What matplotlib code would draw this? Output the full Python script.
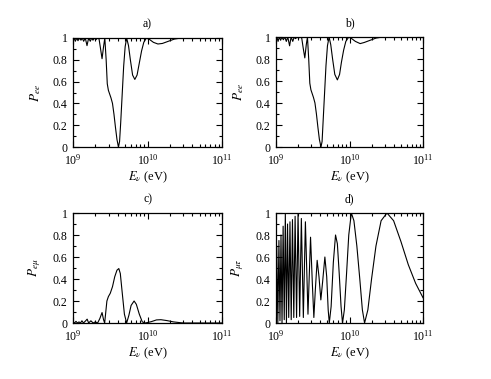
import matplotlib
matplotlib.use("Agg")
import matplotlib.pyplot as plt
from matplotlib.ticker import FuncFormatter, LogLocator, MultipleLocator, LogFormatterMathtext
import numpy as np

plt.rcParams["font.family"] = ["Liberation Serif", "DejaVu Serif"]
plt.rcParams["mathtext.fontset"] = "stix"

# ---- data (log10 of E in eV, probability) ----
logE_ee_a = [9.0, 9.015, 9.031, 9.05, 9.067, 9.085, 9.107, 9.125, 9.143, 9.165,
             9.188, 9.21, 9.232, 9.25, 9.268, 9.29, 9.309, 9.33, 9.35, 9.37,
             9.39, 9.41, 9.427, 9.445, 9.46, 9.475, 9.49, 9.51, 9.53, 9.55,
             9.57, 9.59, 9.61, 9.625, 9.64, 9.66, 9.68, 9.70, 9.72, 9.745,
             9.77, 9.80, 9.83, 9.86, 9.89, 9.92, 9.95, 9.985, 10.03, 10.08,
             10.14, 10.2, 10.28, 10.36, 10.45, 11.0]
P_ee_a = [0.98, 1.0, 0.97, 1.0, 0.975, 1.0, 0.98, 1.0, 0.97, 1.0,
          0.93, 1.0, 0.97, 1.0, 0.98, 1.0, 0.985, 1.0, 0.99, 0.90,
          0.81, 0.92, 1.0, 0.80, 0.58, 0.52, 0.49, 0.45, 0.40, 0.30,
          0.18, 0.07, 0.0, 0.05, 0.22, 0.48, 0.74, 0.92, 1.0, 0.93,
          0.80, 0.66, 0.62, 0.66, 0.77, 0.88, 0.96, 1.0, 0.985, 0.96,
          0.945, 0.95, 0.97, 0.99, 1.0, 1.0]

logE_ee_b = [9.0, 9.012, 9.028, 9.045, 9.063, 9.08, 9.10, 9.12, 9.14, 9.16,
             9.185, 9.205, 9.228, 9.248, 9.266, 9.288, 9.306, 9.33, 9.35, 9.37,
             9.392, 9.412, 9.428, 9.445, 9.46, 9.475, 9.49, 9.51, 9.53, 9.55,
             9.57, 9.59, 9.612, 9.627, 9.64, 9.66, 9.68, 9.70, 9.722, 9.745,
             9.77, 9.80, 9.835, 9.865, 9.89, 9.92, 9.95, 9.99, 10.03, 10.08,
             10.145, 10.2, 10.28, 10.36, 10.45, 11.0]
P_ee_b = [0.97, 1.0, 0.96, 1.0, 0.97, 1.0, 0.975, 1.0, 0.96, 1.0,
          0.92, 1.0, 0.96, 1.0, 0.985, 1.0, 0.99, 1.0, 0.99, 0.90,
          0.81, 0.93, 1.0, 0.80, 0.58, 0.52, 0.49, 0.45, 0.40, 0.30,
          0.18, 0.07, 0.0, 0.05, 0.22, 0.48, 0.74, 0.92, 1.0, 0.93,
          0.80, 0.66, 0.61, 0.66, 0.77, 0.88, 0.96, 1.0, 0.985, 0.96,
          0.94, 0.95, 0.97, 0.99, 1.0, 1.0]

logE_em = [9.0, 9.02, 9.04, 9.06, 9.08, 9.10, 9.12, 9.14, 9.17, 9.19,
           9.21, 9.24, 9.27, 9.30, 9.33, 9.36, 9.39, 9.41, 9.425, 9.44,
           9.455, 9.475, 9.50, 9.53, 9.56, 9.59, 9.615, 9.635, 9.66, 9.69,
           9.72, 9.75, 9.78, 9.82, 9.85, 9.89, 9.93, 9.97, 10.05, 10.12,
           10.18, 10.26, 10.35, 10.45, 10.5, 11.0]
P_em = [0.01, 0.0, 0.015, 0.0, 0.01, 0.0, 0.02, 0.0, 0.02, 0.035,
        0.0, 0.02, 0.0, 0.01, 0.0, 0.04, 0.095, 0.03, 0.0, 0.10,
        0.20, 0.24, 0.27, 0.33, 0.42, 0.48, 0.495, 0.45, 0.28, 0.08,
        0.0, 0.07, 0.16, 0.20, 0.17, 0.08, 0.01, 0.0, 0.012, 0.028,
        0.03, 0.022, 0.01, 0.002, 0.0, 0.0]

logE_mt = [9.0, 9.010, 9.025, 9.040, 9.054, 9.068, 9.082, 9.097, 9.112, 9.127,
           9.142, 9.157, 9.173, 9.190, 9.207, 9.224, 9.242, 9.260, 9.280, 9.300,
           9.322, 9.345, 9.372, 9.400, 9.435, 9.47, 9.495, 9.515, 9.535, 9.56,
           9.585, 9.61, 9.635, 9.665, 9.69, 9.71, 9.725, 9.75, 9.78, 9.81,
           9.835, 9.86, 9.885, 9.905, 9.93, 9.96, 9.99, 10.025, 10.06, 10.10,
           10.14, 10.175, 10.205, 10.25, 10.30, 10.36, 10.43, 10.51, 10.60, 10.70,
           10.80, 10.90, 11.0]
P_mt = [0.05, 0.70, 0.0, 0.75, 0.02, 0.80, 0.0, 0.88, 0.03, 1.0,
        0.0, 0.90, 0.05, 0.92, 0.03, 0.94, 0.05, 0.97, 0.05, 1.0,
        0.06, 0.95, 0.05, 0.92, 0.08, 0.78, 0.35, 0.05, 0.30, 0.57,
        0.42, 0.21, 0.38, 0.60, 0.42, 0.12, 0.0, 0.15, 0.55, 0.80,
        0.72, 0.45, 0.15, 0.0, 0.12, 0.45, 0.80, 1.0, 0.93, 0.70,
        0.40, 0.12, 0.0, 0.12, 0.40, 0.70, 0.93, 1.0, 0.93, 0.74,
        0.53, 0.36, 0.23]

panels = [
    ("a)", r"$P_{ee}$", logE_ee_a, P_ee_a, [73, 38, 222, 147]),
    ("b)", r"$P_{ee}$", logE_ee_b, P_ee_b, [276, 37, 423, 147]),
    ("c)", r"$P_{e\mu}$", logE_em, P_em, [73, 213, 222, 323]),
    ("d)", r"$P_{\mu\tau}$", logE_mt, P_mt, [276, 213, 423, 323]),
]

W, H = 491, 379
fig = plt.figure(figsize=(W / 100, H / 100), dpi=100)

for title, ylab, lx, py, (x0, y0, x1, y1) in panels:
    ax = fig.add_axes([x0 / W, 1 - y1 / H, (x1 - x0) / W, (y1 - y0) / H])
    ax.plot(10 ** np.array(lx), py, color="black", lw=0.8)
    ax.set_xscale("log")
    ax.set_xlim(1e9, 1e11)
    ax.set_ylim(0, 1)
    ax.xaxis.set_major_locator(LogLocator(base=10, numticks=5))
    ax.xaxis.set_minor_locator(LogLocator(base=10, subs=np.arange(2, 10), numticks=20))
    ax.xaxis.set_major_formatter(LogFormatterMathtext())
    ax.yaxis.set_major_locator(MultipleLocator(0.2))
    ax.yaxis.set_minor_locator(MultipleLocator(0.1))
    ax.yaxis.set_major_formatter(FuncFormatter(lambda v, p: "%g" % round(v, 2)))
    ax.tick_params(which="both", direction="in", top=True, right=True, labelsize=8.5, width=0.8)
    ax.tick_params(which="major", length=4.5)
    ax.tick_params(axis="x", which="major", pad=4.5)
    ax.tick_params(axis="y", which="major", pad=4)
    ax.tick_params(which="minor", length=2.2)
    for s in ax.spines.values():
        s.set_linewidth(0.9)
    ax.set_title(title, fontsize=8.5, pad=8)
    ax.set_xlabel(r"$E_\nu$ (eV)", fontsize=9, labelpad=1)
    ax.set_ylabel(ylab, fontsize=9.5, labelpad=7)

fig.savefig("out.png", dpi=100)
